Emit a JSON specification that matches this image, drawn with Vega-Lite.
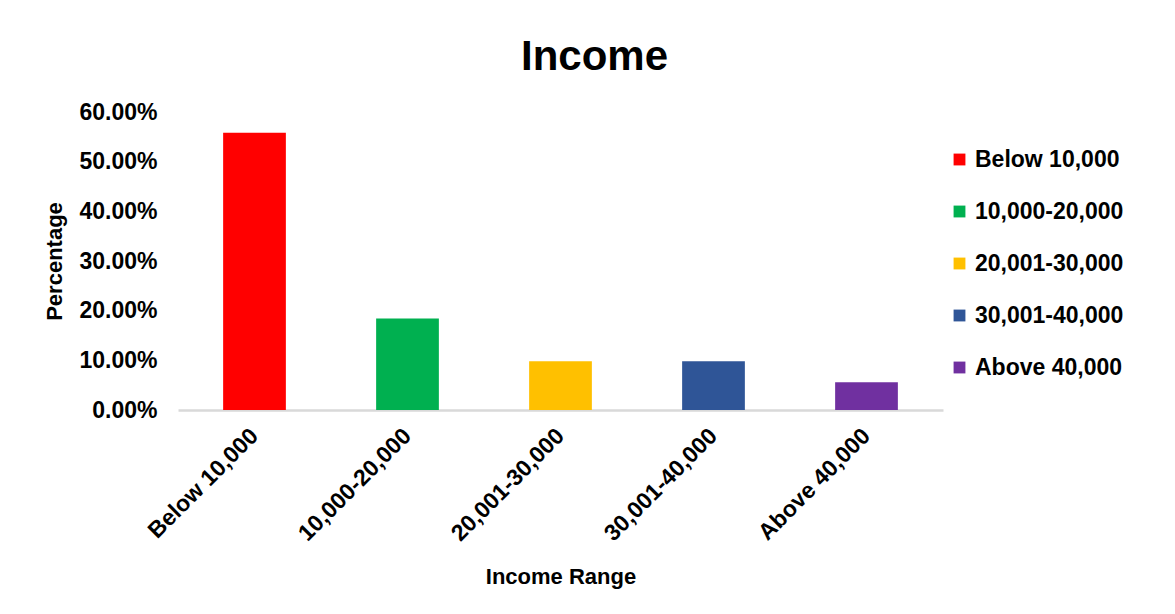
{
  "$schema": "https://vega.github.io/schema/vega-lite/v6.json",
  "autosize": "none",
  "width": 765,
  "height": 298,
  "padding": {"left": 178, "top": 112, "right": 232, "bottom": 204},
  "background": "white",
  "title": {
    "text": "Income",
    "font": "Liberation Sans",
    "fontSize": 42,
    "fontWeight": "bold",
    "color": "#000000",
    "anchor": "middle",
    "offset": 22,
    "dx": 34
  },
  "data": {
    "values": [
      {"range": "Below 10,000", "pct": 0.558},
      {"range": "10,000-20,000", "pct": 0.184},
      {"range": "20,001-30,000", "pct": 0.098},
      {"range": "30,001-40,000", "pct": 0.098},
      {"range": "Above 40,000", "pct": 0.056}
    ]
  },
  "mark": {"type": "bar"},
  "encoding": {
    "x": {
      "field": "range",
      "type": "nominal",
      "sort": null,
      "scale": {"paddingInner": 0.59, "paddingOuter": 0.295},
      "axis": {
        "title": "Income Range",
        "titleFont": "Liberation Sans",
        "titleFontSize": 22,
        "titleFontWeight": "bold",
        "titleColor": "#000000",
        "titlePadding": 21,
        "labelAngle": -45,
        "labelAlign": "right",
        "labelBaseline": "middle",
        "labelFont": "Liberation Sans",
        "labelFontSize": 23,
        "labelFontWeight": "bold",
        "labelColor": "#000000",
        "labelPadding": 22,
        "ticks": false,
        "domainColor": "#d9d9d9",
        "domainWidth": 2.5
      }
    },
    "y": {
      "field": "pct",
      "type": "quantitative",
      "scale": {"domain": [0, 0.6]},
      "axis": {
        "title": "Percentage",
        "titleFont": "Liberation Sans",
        "titleFontSize": 22,
        "titleFontWeight": "bold",
        "titleColor": "#000000",
        "titlePadding": 12,
        "values": [0, 0.1, 0.2, 0.3, 0.4, 0.5, 0.6],
        "format": ".2%",
        "labelFont": "Liberation Sans",
        "labelFontSize": 23,
        "labelFontWeight": "bold",
        "labelColor": "#000000",
        "labelPadding": 21,
        "ticks": false,
        "domain": false,
        "grid": false
      }
    },
    "color": {
      "field": "range",
      "type": "nominal",
      "sort": null,
      "scale": {
        "domain": ["Below 10,000", "10,000-20,000", "20,001-30,000", "30,001-40,000", "Above 40,000"],
        "range": ["#ff0000", "#00b050", "#ffc000", "#2f5597", "#7030a0"]
      },
      "legend": {
        "title": null,
        "orient": "none",
        "legendX": 770,
        "legendY": 36,
        "symbolType": "square",
        "symbolSize": 140,
        "symbolStrokeWidth": 0,
        "labelFont": "Liberation Sans",
        "labelFontSize": 23,
        "labelFontWeight": "bold",
        "labelColor": "#000000",
        "labelOffset": 4,
        "rowPadding": 28
      }
    }
  },
  "config": {
    "view": {"stroke": null}
  }
}
